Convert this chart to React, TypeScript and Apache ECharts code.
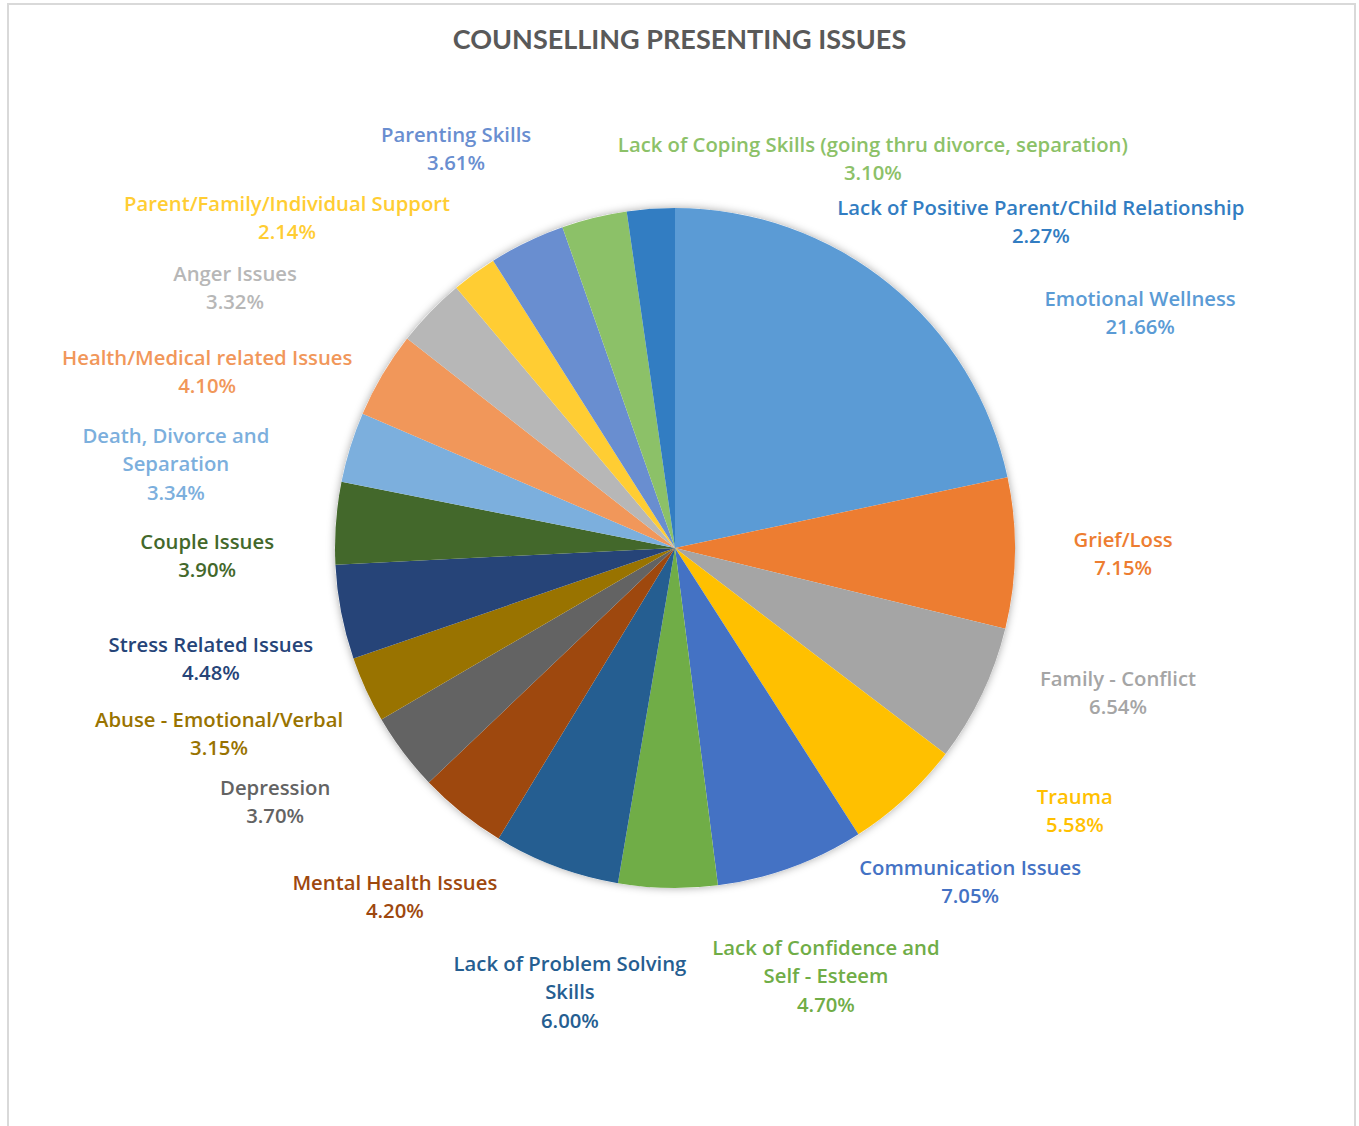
import React, { useEffect, useRef } from 'react';
import * as echarts from 'echarts';

const categories = [
  'Emotional Wellness',
  'Grief/Loss',
  'Family - Conflict',
  'Trauma',
  'Communication Issues',
  'Lack of Confidence and\nSelf - Esteem',
  'Lack of Problem Solving\nSkills',
  'Mental Health Issues',
  'Depression',
  'Abuse - Emotional/Verbal',
  'Stress Related Issues',
  'Couple Issues',
  'Death, Divorce and\nSeparation',
  'Health/Medical related Issues',
  'Anger Issues',
  'Parent/Family/Individual Support',
  'Parenting Skills',
  'Lack of Coping Skills (going thru divorce, separation)',
  'Lack of Positive Parent/Child Relationship',
];

const values = [21.66, 7.15, 6.54, 5.58, 7.05, 4.7, 6.0, 4.2, 3.7, 3.15, 4.48, 3.9, 3.34, 4.1, 3.32, 2.14, 3.61, 3.1, 2.27];

const colors = [
  '#5B9BD5', '#ED7D31', '#A5A5A5', '#FFC000', '#4472C4', '#70AD47', '#255E91', '#9E480E', '#636363',
  '#997300', '#264478', '#43682B', '#7CAFDD', '#F1975A', '#B7B7B7', '#FFCD33', '#698ED0', '#8CC168', '#327DC2',
];

// "Best fit" label placement (like the spreadsheet's), as offsets of the label's
// centre from the pie's centre, in units of the pie's radius.
const labelOffsets = [
  [1.368, -0.694],
  [1.318, 0.015],
  [1.303, 0.424],
  [1.176, 0.771],
  [0.868, 0.979],
  [0.444, 1.256],
  [-0.309, 1.303],
  [-0.824, 1.024],
  [-1.176, 0.744],
  [-1.341, 0.544],
  [-1.365, 0.324],
  [-1.376, 0.021],
  [-1.468, -0.25],
  [-1.376, -0.521],
  [-1.294, -0.768],
  [-1.141, -0.974],
  [-0.644, -1.176],
  [0.582, -1.147],
  [1.076, -0.962],
];

const PIE_CX = 675;
const PIE_CY = 548;
const PIE_R = 340;
const labelFont = 'Open Sans';

export default function App() {
  const ref = useRef<HTMLDivElement>(null);
  useEffect(() => {
    document.body.style.margin = '0';
    const chart = echarts.init(ref.current!, null, { renderer: 'svg' });
    chart.setOption({
      animation: false,
      backgroundColor: '#ffffff',
      title: {
        text: 'COUNSELLING PRESENTING ISSUES',
        left: 'center',
        top: 20,
        textStyle: { fontFamily: 'Lato', fontSize: 27, fontWeight: 'bold', color: '#595959' },
      },
      graphic: [
        {
          type: 'rect',
          shape: { x: 8, y: 4, width: 1347, height: 1200 },
          style: { fill: 'none', stroke: '#d9d9d9', lineWidth: 2 },
          silent: true,
        },
      ],
      series: [
        {
          type: 'pie',
          z: 1,
          silent: true,
          center: [PIE_CX, PIE_CY],
          radius: PIE_R,
          label: { show: false },
          labelLine: { show: false },
          data: [
            {
              value: 1,
              itemStyle: { color: '#ffffff', shadowBlur: 8, shadowColor: 'rgba(0,0,0,0.35)' },
            },
          ],
        },
        {
          type: 'pie',
          z: 2,
          center: [PIE_CX, PIE_CY],
          radius: PIE_R,
          startAngle: 90,
          clockwise: true,
          avoidLabelOverlap: false,
          label: {
            position: 'outside',
            formatter: (p: any) => `${p.name}\n${Number(p.value).toFixed(2)}%`,
            fontFamily: labelFont,
            fontSize: 20.3,
            fontWeight: 600,
            lineHeight: 28.5,
            width: 600,
            overflow: 'none',
          },
          labelLine: { show: false, length: 20, length2: 0 },
          labelLayout: (params: any) => {
            const off = labelOffsets[params.dataIndex];
            return {
              x: PIE_CX + off[0] * PIE_R,
              y: PIE_CY + off[1] * PIE_R,
              align: 'center',
              verticalAlign: 'middle',
            };
          },
          itemStyle: { borderWidth: 0 },
          data: categories.map((name, i) => ({
            name,
            value: values[i],
            itemStyle: { color: colors[i] },
            label: { color: colors[i] },
          })),
        },
      ],
    });
    return () => chart.dispose();
  }, []);
  return <div ref={ref} style={{ width: 1359, height: 1126 }} />;
}
